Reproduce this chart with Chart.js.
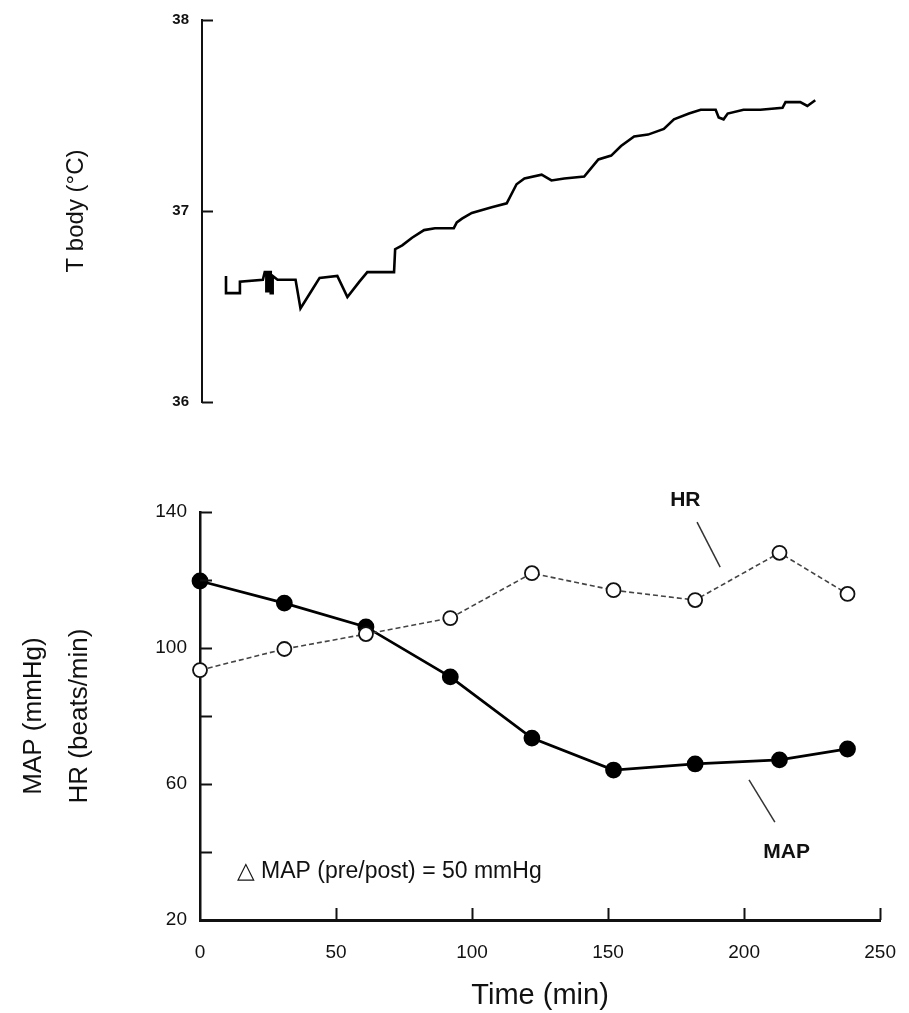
<!DOCTYPE html>
<html>
<head>
<meta charset="utf-8">
<script src="https://cdn.jsdelivr.net/npm/chart.js@4.4.1/dist/chart.umd.min.js"></script>
<style>
  body { margin: 0; background: #fff; }
  #wrap { position: relative; width: 909px; height: 1013px; }
  canvas { position: absolute; left: 0; }
  #tempChart { top: 0; }
  #hemoChart { top: 430px; }
</style>
</head>
<body>
<div id="wrap">
  <canvas id="tempChart" width="909" height="430"></canvas>
  <canvas id="hemoChart" width="909" height="583"></canvas>
</div>
<script>
// Body temperature trace (time in min, temperature in °C)
const tempTime = [8.8, 8.8, 13.9, 13.9, 22.3, 23.0, 23.6, 23.6, 24.5, 24.5, 25.2, 25.2, 25.9, 25.9, 27.7, 34.3, 36.1, 40.5, 43.1,
    49.6, 53.3, 57.7, 60.6, 70.4, 70.8, 73.4, 77.0, 81.4, 85.4, 92.3, 93.4, 95.3, 98.9, 106.2, 111.7,
    115.3, 118.2, 124.5, 128.1, 132.8, 140.1, 145.3, 150.0, 153.6, 158.4, 163.5, 169.3, 173.0, 178.5,
    182.8, 188.3, 189.4, 191.2, 192.7, 198.5, 204.7, 212.8, 213.9, 219.3, 221.9, 224.8];
const tempValue = [36.66, 36.57, 36.57, 36.63, 36.64, 36.68, 36.68, 36.58, 36.58, 36.68, 36.68, 36.57, 36.57, 36.66, 36.64, 36.64, 36.49, 36.59, 36.65,
    36.66, 36.55, 36.63, 36.68, 36.68, 36.80, 36.82, 36.86, 36.90, 36.91, 36.91, 36.94, 36.96, 36.99, 37.02, 37.04,
    37.14, 37.17, 37.19, 37.16, 37.17, 37.18, 37.27, 37.29, 37.34, 37.39, 37.40, 37.43, 37.48, 37.51,
    37.53, 37.53, 37.49, 37.48, 37.51, 37.53, 37.53, 37.54, 37.57, 37.57, 37.55, 37.58];

// MAP and HR samples
const sampleTime = [0, 31, 61, 92, 122, 152, 182, 213, 238];
const mapValues = [119.7, 113.2, 106.2, 91.5, 73.5, 64.1, 65.9, 67.1, 70.3];
const hrValues = [93.5, 99.7, 104.1, 108.8, 122.0, 117.0, 114.1, 128.0, 115.9];

// axis ticks
const tempTicks = [36, 37, 38];
const pressureLabels = [20, 60, 100, 140];
const pressureMarks = [40, 60, 80, 100, 120, 140];
const timeTicks = [0, 50, 100, 150, 200, 250];

const FONT = '"Liberation Sans", Arial, sans-serif';
const INK = '#111';

function toPoints(xs, ys) {
    return xs.map((x, i) => ({ x: x, y: ys[i] }));
}

// tick marks pointing into the plot, like the original figure
const innerTicks = {
    id: 'innerTicks',
    afterDatasetsDraw(chart, args, opts) {
        const ctx = chart.ctx;
        const area = chart.chartArea;
        ctx.save();
        ctx.strokeStyle = INK;
        ctx.lineWidth = 2;
        (opts.y || []).forEach(v => {
            const py = Math.round(chart.scales.y.getPixelForValue(v)) + 0.5;
            ctx.beginPath();
            ctx.moveTo(area.left, py);
            ctx.lineTo(area.left + opts.len, py);
            ctx.stroke();
        });
        (opts.x || []).forEach(v => {
            const px = Math.round(chart.scales.x.getPixelForValue(v)) + 0.5;
            ctx.beginPath();
            ctx.moveTo(px, area.bottom);
            ctx.lineTo(px, area.bottom - opts.len);
            ctx.stroke();
        });
        ctx.restore();
    }
};

// labels with leader lines, and the delta note
const notes = {
    id: 'notes',
    afterDraw(chart) {
        const ctx = chart.ctx;
        const sx = chart.scales.x, sy = chart.scales.y;
        const P = (t, v) => [sx.getPixelForValue(t), sy.getPixelForValue(v)];
        ctx.save();
        ctx.fillStyle = INK;
        ctx.strokeStyle = '#333';
        ctx.lineWidth = 1.5;
        ctx.textBaseline = 'middle';

        const line = (a, b) => {
            ctx.beginPath();
            ctx.moveTo(a[0], a[1]);
            ctx.lineTo(b[0], b[1]);
            ctx.stroke();
        };
        line(P(182.7, 137), P(191.2, 123.8));
        line(P(201.8, 61.2), P(211.3, 48.8));

        ctx.font = 'bold 21px ' + FONT;
        ctx.textAlign = 'center';
        let p = P(178.4, 143.5);
        ctx.fillText('HR', p[0], p[1]);
        p = P(215.6, 40);
        ctx.fillText('MAP', p[0], p[1]);

        ctx.font = '23px ' + FONT;
        ctx.textAlign = 'left';
        p = P(13.5, 34.1);
        ctx.fillText('\u25B3 MAP (pre/post) = 50 mmHg', p[0], p[1]);
        ctx.restore();
    }
};

Chart.defaults.font.family = FONT;
Chart.defaults.color = INK;

// Top panel: body temperature
new Chart(document.getElementById('tempChart'), {
    type: 'line',
    data: {
        datasets: [{
            data: toPoints(tempTime, tempValue),
            borderColor: '#000',
            borderWidth: 2.6,
            pointRadius: 0,
            tension: 0
        }]
    },
    options: {
        responsive: false,
        animation: false,
        layout: { padding: { top: 20, right: 25, bottom: 28, left: 0 } },
        plugins: {
            legend: { display: false },
            tooltip: { enabled: false },
            innerTicks: { y: tempTicks, len: 11 }
        },
        scales: {
            x: { type: 'linear', min: 0, max: 250, display: false },
            y: {
                min: 36, max: 38,
                afterFit: s => { s.width = 202; },
                afterBuildTicks: s => { s.ticks = tempTicks.map(v => ({ value: v })); },
                grid: { display: false },
                border: { color: INK, width: 2 },
                ticks: { font: { size: 15, weight: 'bold' }, padding: 5 },
                title: {
                    display: true,
                    text: 'T body (°C)',
                    font: { size: 24 },
                    padding: { top: 62 }
                }
            }
        }
    },
    plugins: [innerTicks]
});

// Bottom panel: MAP and HR
new Chart(document.getElementById('hemoChart'), {
    type: 'line',
    data: {
        datasets: [
            {
                label: 'HR',
                data: toPoints(sampleTime, hrValues),
                order: 1,
                borderColor: '#444',
                borderWidth: 1.6,
                borderDash: [5, 3],
                pointRadius: 7,
                pointBackgroundColor: '#fff',
                pointBorderColor: INK,
                pointBorderWidth: 1.8,
                clip: false,
                tension: 0
            },
            {
                label: 'MAP',
                data: toPoints(sampleTime, mapValues),
                order: 2,
                borderColor: '#000',
                borderWidth: 2.8,
                pointRadius: 7,
                pointBackgroundColor: '#000',
                pointBorderColor: '#000',
                clip: false,
                tension: 0
            }
        ]
    },
    options: {
        responsive: false,
        animation: false,
        layout: { padding: { top: 82, right: 25, bottom: 0, left: 0 } },
        plugins: {
            legend: { display: false },
            tooltip: { enabled: false },
            innerTicks: { y: pressureMarks, x: timeTicks.slice(1), len: 12 }
        },
        scales: {
            x: {
                type: 'linear', min: 0, max: 250,
                afterFit: s => { s.height = 93; },
                afterBuildTicks: s => { s.ticks = timeTicks.map(v => ({ value: v })); },
                grid: { display: false },
                border: { color: INK, width: 3 },
                ticks: { font: { size: 19 }, padding: 13 },
                title: {
                    display: true,
                    text: 'Time (min)',
                    font: { size: 29 },
                    padding: { bottom: 0 }
                }
            },
            y: {
                min: 20, max: 140,
                afterFit: s => { s.width = 200; },
                afterBuildTicks: s => { s.ticks = pressureLabels.map(v => ({ value: v })); },
                grid: { display: false },
                border: { color: INK, width: 2.5 },
                ticks: { font: { size: 19 }, padding: 5 },
                title: {
                    display: true,
                    text: ['MAP (mmHg)', 'HR (beats/min)'],
                    font: { size: 26, lineHeight: 1.8 },
                    padding: { top: 10 }
                }
            }
        }
    },
    plugins: [innerTicks, notes]
});
</script>
</body>
</html>
